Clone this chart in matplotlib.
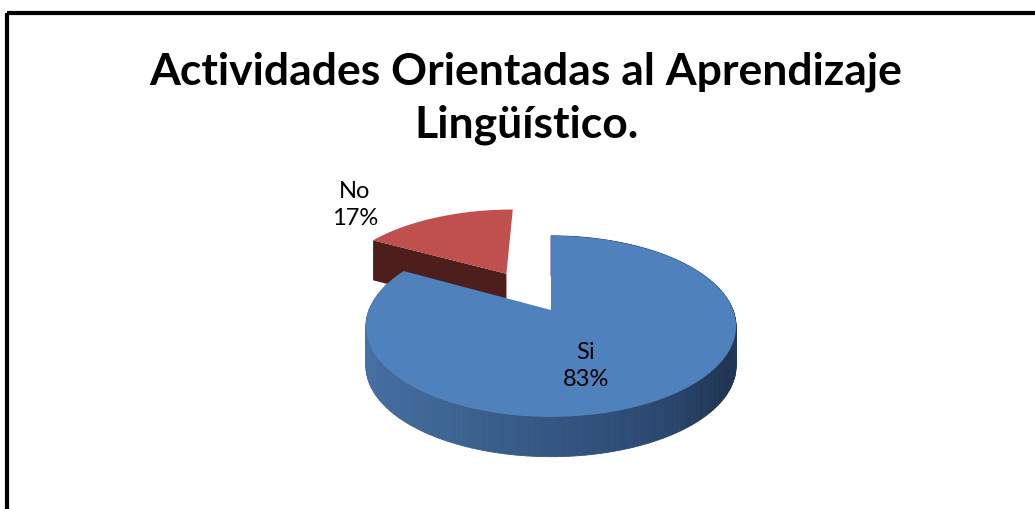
import numpy as np
import matplotlib
matplotlib.use('Agg')
import matplotlib.pyplot as plt
from matplotlib.patches import Polygon
from matplotlib.colors import to_rgb

title = 'Actividades Orientadas al Aprendizaje\nLingüístico.'
labels = ['Si', 'No']
values = [83, 17]
top_colors = ['#4f81bd', '#c0504d']
explode = [0.0, 0.52]

# - - - - geometry of the fake 3d pie (pixel units) - - -
cx, cy = 551, 310
rx, ry = 182, 87.5
persp = 0.18
depth = 40


def proj(u, v, h=0.0):
    s = 1.0 / (1.0 + persp * v)
    return cx + rx * u * s, cy - ry * v * s + depth * h


def arc(t0, t1, off, h=0.0, n=120):
    t = np.radians(np.linspace(t0, t1, n))
    return [proj(np.cos(a) + off[0], np.sin(a) + off[1], h) for a in t]


def side_color(theta):
    stops = [(150, '#4a74ad'), (180, '#4a74ad'), (240, '#3e6594'),
             (300, '#2b4870'), (330, '#1f3452'), (360, '#233a5c'), (450, '#233a5c')]
    th = [s[0] for s in stops]
    cols = np.array([to_rgb(s[1]) for s in stops])
    return tuple(np.interp(theta, th, cols[:, i]) for i in range(3))


def main():
    fig = plt.figure(figsize=(10.35, 5.09), dpi=100)
    ax = fig.add_axes([0, 0, 1, 1])
    ax.set_xlim(0, 1035)
    ax.set_ylim(509, 0)
    ax.axis('off')

    # slice angles, first slice starts at 12 o'clock going clockwise
    total = float(sum(values))
    spans = []
    start = 90.0
    for v in values:
        end = start - v / total * 360.0
        spans.append((end + 360, start + 360))
        start = end
    si_t0, si_t1 = spans[0]  # 151.2 .. 450
    no_t0, no_t1 = spans[1]  # 90 .. 151.2

    # No slice (back, exploded)
    mid = np.radians((no_t0 + no_t1) / 2)
    off = (explode[1] * np.cos(mid), explode[1] * np.sin(mid))
    a = np.radians(no_t1)
    vt = proj(off[0], off[1])
    vb = proj(off[0], off[1], 1)
    ot = proj(np.cos(a) + off[0], np.sin(a) + off[1])
    ob = proj(np.cos(a) + off[0], np.sin(a) + off[1], 1)
    ax.add_patch(Polygon([vt, ot, ob, vb], closed=True, fc='#4e1e1d', ec='none'))
    top = [vt] + arc(no_t0, no_t1, off)
    ax.add_patch(Polygon(top, closed=True, fc=top_colors[1], ec='none'))

    # Si slice side, drawn in strips for the shading
    off = (0.0, 0.0)
    ts = np.linspace(si_t0, si_t1, 200)
    for t0, t1 in zip(ts[:-1], ts[1:]):
        up = arc(t0, t1, off, 0, 2)
        lo = arc(t0, t1, off, 1, 2)
        c = side_color((t0 + t1) / 2)
        ax.add_patch(Polygon(up + lo[::-1], closed=True, fc=c, ec=c, lw=0.6))
    top = [proj(0, 0)] + arc(si_t0, si_t1, off, 0, 300)
    ax.add_patch(Polygon(top, closed=True, fc=top_colors[0], ec='none'))

    # data labels
    pct = [round(v / total * 100) for v in values]
    ax.text(586, 366, '%s\n%d%%' % (labels[0], pct[0]), ha='center', va='center',
            fontsize=17, family='Lato', linespacing=1.4)
    ax.text(355, 205, '%s\n%d%%' % (labels[1], pct[1]), ha='center', va='center',
            fontsize=17, family='Lato', linespacing=1.4)

    ax.text(526, 98, title, ha='center', va='center', fontsize=32,
            fontweight='bold', family='Lato', linespacing=1.38)

    # chart border (only top and left are in the picture)
    ax.plot([7, 1035], [13, 13], color='black', lw=3, solid_capstyle='butt')
    ax.plot([7, 7], [13, 509], color='black', lw=3, solid_capstyle='butt')

    fig.savefig('out.png', dpi=100)


if __name__ == '__main__':
    main()
